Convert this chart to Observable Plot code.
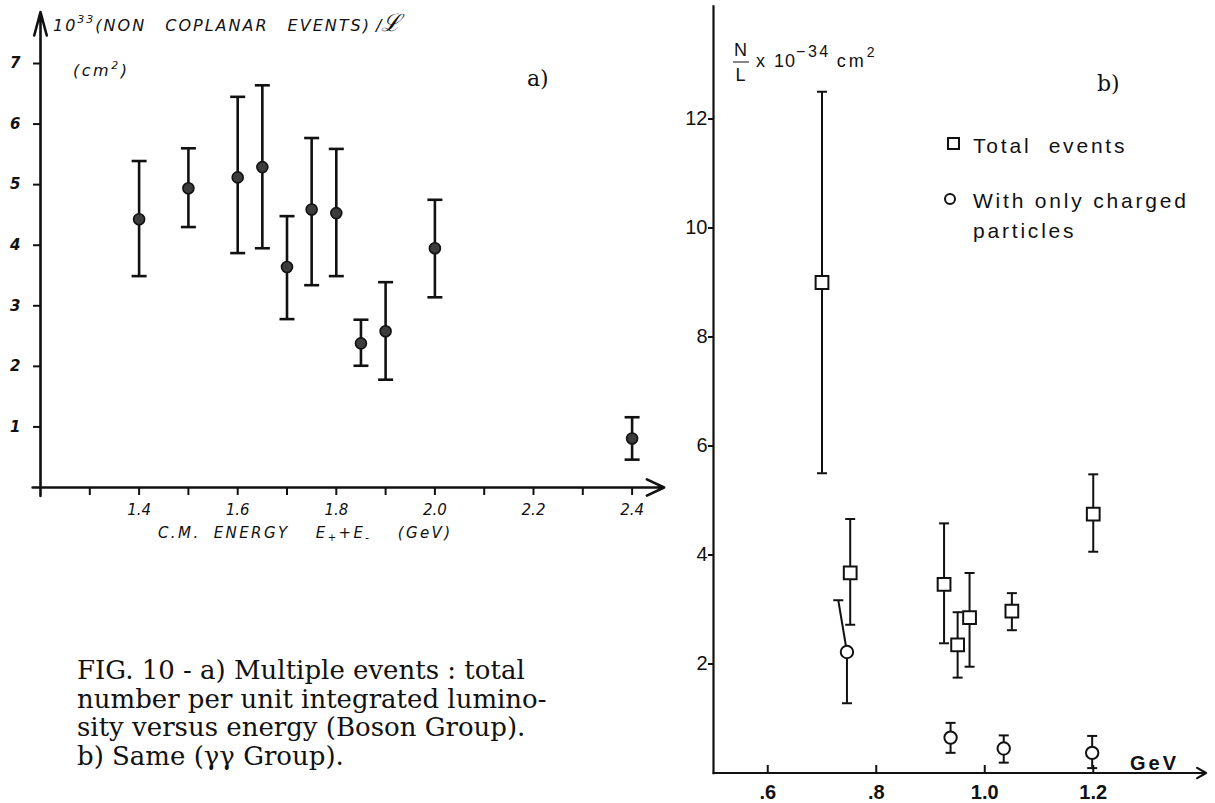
<!DOCTYPE html>
<html><head><meta charset="utf-8">
<script src="https://cdn.jsdelivr.net/npm/d3@7"></script>
<script src="https://cdn.jsdelivr.net/npm/@observablehq/plot@0.6"></script>
<style>
html,body{margin:0;padding:0;background:#fff;}
#root{position:relative;width:1215px;height:803px;overflow:hidden;background:#fff;color:#111;}
#root svg{position:absolute;top:0;}
.t{position:absolute;white-space:pre;line-height:1;color:#111;}
.hand{font-family:"DejaVu Sans",sans-serif;font-style:italic;}
.sans{font-family:"Liberation Sans",Arial,sans-serif;}
.serif{font-family:"DejaVu Serif",serif;}
.sq{display:inline-block;width:9px;height:9px;border:2px solid #111;}
.ci{display:inline-block;width:8px;height:8px;border:2px solid #111;border-radius:50%;}
</style></head><body><div id="root"></div>
<script>
// ---------- Panel a) Boson Group ----------
const energyA = [1.4, 1.5, 1.6, 1.65, 1.7, 1.75, 1.8, 1.85, 1.9, 2.0, 2.4];
const valueA  = [4.43, 4.94, 5.12, 5.29, 3.64, 4.59, 4.53, 2.38, 2.58, 3.95, 0.81];
const upperA  = [5.39, 5.60, 6.45, 6.64, 4.48, 5.77, 5.59, 2.77, 3.39, 4.75, 1.16];
const lowerA  = [3.49, 4.30, 3.87, 3.95, 2.78, 3.34, 3.49, 2.01, 1.78, 3.14, 0.46];
const yTicksA = [1, 2, 3, 4, 5, 6, 7];
const yTickLabelsA = ["1", "2", "3", "4", "5", "6", "7"];
const xTicksA = [1.3, 1.4, 1.5, 1.6, 1.7, 1.8, 1.9, 2.0, 2.1, 2.2, 2.3, 2.4];
const xLabelValuesA = [1.4, 1.6, 1.8, 2.0, 2.2, 2.4];
const xTickLabelsA = ["1.4", "1.6", "1.8", "2.0", "2.2", "2.4"];
const axisExtentA = {x1: 1.184, x2: 2.465, y1: -0.14, y2: 7.85};

// ---------- Panel b) γγ Group ----------
const totalX  = [0.70, 0.752, 0.925, 0.95, 0.972, 1.05, 1.2];
const totalY  = [9.0, 3.67, 3.46, 2.35, 2.85, 2.97, 4.75];
const totalHi = [12.5, 4.66, 4.58, 2.95, 3.67, 3.30, 5.48];
const totalLo = [5.5, 2.72, 2.38, 1.75, 1.95, 2.62, 4.06];
const chargedX   = [0.746, 0.937, 1.035, 1.198];
const chargedY   = [2.22, 0.65, 0.45, 0.37];
const chargedHi  = [3.17, 0.92, 0.69, 0.68];
const chargedHiX = [0.73, 0.937, 1.035, 1.198];
const chargedLo  = [1.28, 0.37, 0.19, 0.09];
const yTicksB = [2, 4, 6, 8, 10, 12];
const yTickLabelsB = ["2", "4", "6", "8", "10", "12"];
const xTicksB = [0.6, 0.8, 1.0, 1.2];
const xTickLabelsB = [".6", ".8", "1.0", "1.2"];
const axisExtentB = {x1: 0.5, x2: 1.408, y1: -0.03, y2: 14.08};

// ---------- tables ----------
const dataA = energyA.map((e, i) => ({e, v: valueA[i], hi: upperA[i], lo: lowerA[i]}));
const dataTotal = totalX.map((x, i) => ({x, y: totalY[i], hi: totalHi[i], lo: totalLo[i]}));
const dataCharged = chargedX.map((x, i) => ({x, y: chargedY[i], hi: chargedHi[i], hx: chargedHiX[i], lo: chargedLo[i]}));

const rad = s => Math.sqrt(s / Math.PI);
const capSym = {draw(ctx, size) { const r = rad(size); ctx.moveTo(-r, 0); ctx.lineTo(r, 0); }};
const tickUpSym = {draw(ctx, size) { const r = rad(size); ctx.moveTo(0, 0); ctx.lineTo(0, -r); }};

const ink = "#111";
const root = document.getElementById("root");

// ---------- Plot a ----------
const plotA = Plot.plot({
  width: 700, height: 560,
  marginLeft: 40, marginRight: 19.1, marginTop: 8.5, marginBottom: 73,
  x: {domain: [1.2, 2.5]},
  y: {domain: [0, 7.9]},
  style: {background: "transparent", overflow: "visible", fontFamily: "DejaVu Sans, sans-serif", fontSize: "15px", fontStyle: "italic", color: ink},
  marks: [
    Plot.arrow([axisExtentA], {x1: "x1", x2: "x2", y1: 0, y2: 0, stroke: ink, strokeWidth: 2.6, headLength: 11, headAngle: 50}),
    Plot.arrow([axisExtentA], {x1: 1.2, x2: 1.2, y1: "y1", y2: "y2", stroke: ink, strokeWidth: 2.6, headLength: 14, headAngle: 30}),
    Plot.axisY(yTicksA, {anchor: "left", tickSize: 7, tickPadding: 13, strokeWidth: 2, label: null, tickFormat: (d, i) => yTickLabelsA[i], fontWeight: "bold", fontSize: 15, fontStyle: "italic"}),
    Plot.axisX(xTicksA, {anchor: "bottom", tickSize: 8, strokeWidth: 2, tickFormat: () => "", label: null}),
    Plot.axisX(xLabelValuesA, {anchor: "bottom", tickSize: 0, tickPadding: 17, tickFormat: (d, i) => xTickLabelsA[i], label: null, fontSize: 15, fontStyle: "italic"}),
    Plot.ruleX(dataA, {x: "e", y1: "lo", y2: "hi", stroke: ink, strokeWidth: 2.6}),
    Plot.dot(dataA, {x: "e", y: "hi", symbol: capSym, r: 7.5, fill: "none", stroke: ink, strokeWidth: 2.6}),
    Plot.dot(dataA, {x: "e", y: "lo", symbol: capSym, r: 7.5, fill: "none", stroke: ink, strokeWidth: 2.6}),
    Plot.dot(dataA, {x: "e", y: "v", r: 5.5, fill: "#3c3c3c", stroke: ink, strokeWidth: 1.6})
  ]
});
plotA.style.left = "0px";
root.appendChild(plotA);

// ---------- Plot b ----------
const plotB = Plot.plot({
  width: 565, height: 803,
  marginLeft: 63, marginRight: 13.75, marginTop: 9.5, marginBottom: 30.5,
  x: {domain: [0.5, 1.4]},
  y: {domain: [0, 14]},
  style: {background: "transparent", overflow: "visible", fontFamily: "Liberation Sans, Arial, sans-serif", fontSize: "20px", color: ink},
  marks: [
    Plot.ruleX([axisExtentB], {x: 0.5, y1: "y1", y2: "y2", stroke: ink, strokeWidth: 2.2}),
    Plot.arrow([axisExtentB], {x1: "x1", x2: "x2", y1: 0, y2: 0, stroke: ink, strokeWidth: 2.2, headLength: 7, headAngle: 60}),
    Plot.axisY(yTicksB, {anchor: "left", tickSize: 5, tickPadding: 1, strokeWidth: 2, label: null, tickFormat: (d, i) => yTickLabelsB[i], fontSize: 20}),
    Plot.dot(xTicksB, {x: d => d, frameAnchor: "bottom", symbol: tickUpSym, r: 8, fill: "none", stroke: ink, strokeWidth: 2}),
    Plot.axisX(xTicksB, {anchor: "bottom", tickSize: 0, tickPadding: 12, tickFormat: (d, i) => xTickLabelsB[i], label: null, fontSize: 20, fontWeight: "bold"}),
    // total events
    Plot.ruleX(dataTotal, {x: "x", y1: "lo", y2: "hi", stroke: ink, strokeWidth: 2}),
    Plot.dot(dataTotal, {x: "x", y: "hi", symbol: capSym, r: 5, fill: "none", stroke: ink, strokeWidth: 2}),
    Plot.dot(dataTotal, {x: "x", y: "lo", symbol: capSym, r: 5, fill: "none", stroke: ink, strokeWidth: 2}),
    Plot.dot(dataTotal, {x: "x", y: "y", symbol: "square", r: 7.2, fill: "white", stroke: ink, strokeWidth: 2}),
    // only charged particles
    Plot.ruleX(dataCharged, {x: "x", y1: "lo", y2: "y", stroke: ink, strokeWidth: 2}),
    Plot.link(dataCharged, {x1: "x", y1: "y", x2: "hx", y2: "hi", stroke: ink, strokeWidth: 2}),
    Plot.dot(dataCharged, {x: "hx", y: "hi", symbol: capSym, r: 5, fill: "none", stroke: ink, strokeWidth: 2}),
    Plot.dot(dataCharged, {x: "x", y: "lo", symbol: capSym, r: 5, fill: "none", stroke: ink, strokeWidth: 2}),
    Plot.dot(dataCharged, {x: "x", y: "y", r: 6.2, fill: "white", stroke: ink, strokeWidth: 2})
  ]
});
plotB.style.left = "650px";
root.appendChild(plotB);

// ---------- texts ----------
function addText(html, cls, left, cy, css) {
  const d = document.createElement("div");
  d.className = "t " + cls;
  d.innerHTML = html;
  d.style.left = left + "px";
  d.style.top = cy + "px";
  d.style.transform = "translateY(-50%)";
  Object.assign(d.style, css || {});
  root.appendChild(d);
  return d;
}
addText('10<sup style="font-size:11px;vertical-align:8px">33</sup>(NON COPLANAR EVENTS)<span style="letter-spacing:0;word-spacing:0"> /</span><span style="font-family:\'DejaVu Serif\',serif;font-size:24px;letter-spacing:0">ℒ</span>', "hand", 53, 23, {fontSize: "16px", letterSpacing: "2px", wordSpacing: "12px"});
addText('(cm<sup style="font-size:11px;vertical-align:7px">2</sup>)', "hand", 73, 69, {fontSize: "16px", letterSpacing: "2.5px"});
addText("a)", "serif", 527, 79, {fontSize: "22px"});
addText("C.M. ENERGY  E<span style=\"font-size:10px;vertical-align:-3px\">+</span>+E<span style=\"font-size:10px;vertical-align:-3px\">-</span>  (GeV)", "hand", 158, 534, {fontSize: "15px", letterSpacing: "2.4px", wordSpacing: "6px"});

addText('<span style="display:inline-block;text-align:center;vertical-align:middle;line-height:1;font-size:18px"><span style="display:block;padding:0 1px 3px">N</span><span style="display:block;border-top:1.5px solid #111;padding:3px 1px 0">L</span></span><span style="letter-spacing:2px"> x </span>10<sup style="font-size:16px;vertical-align:10px;letter-spacing:2.5px">−34</sup> <span style="letter-spacing:3px">cm</span><sup style="font-size:14px;vertical-align:10px">2</sup>', "sans", 733, 62, {fontSize: "18px", letterSpacing: "1px"});
addText("b)", "serif", 1097, 84, {fontSize: "22px"});
addText('<span class="sq"></span>', "sans", 947, 145, {});
addText("Total  events", "sans", 973, 145, {fontSize: "21px", letterSpacing: "2.8px"});
addText('<span class="ci"></span>', "sans", 944, 200, {});
addText("With only charged", "sans", 973, 200, {fontSize: "21px", letterSpacing: "2.8px"});
addText("particles", "sans", 973, 230, {fontSize: "21px", letterSpacing: "2.8px"});
addText("GeV", "sans", 1130, 763, {fontSize: "20px", letterSpacing: "3px", fontWeight: "bold"});

const cap = document.createElement("div");
cap.className = "t serif";
cap.style.left = "77px"; cap.style.top = "656px";
cap.style.fontSize = "26px"; cap.style.lineHeight = "28.5px";
cap.innerHTML = "FIG. 10 - a) Multiple events : total<br>number per unit integrated lumino-<br>sity versus energy (Boson Group).<br>b) Same (γγ Group).";
root.appendChild(cap);
</script></body></html>
